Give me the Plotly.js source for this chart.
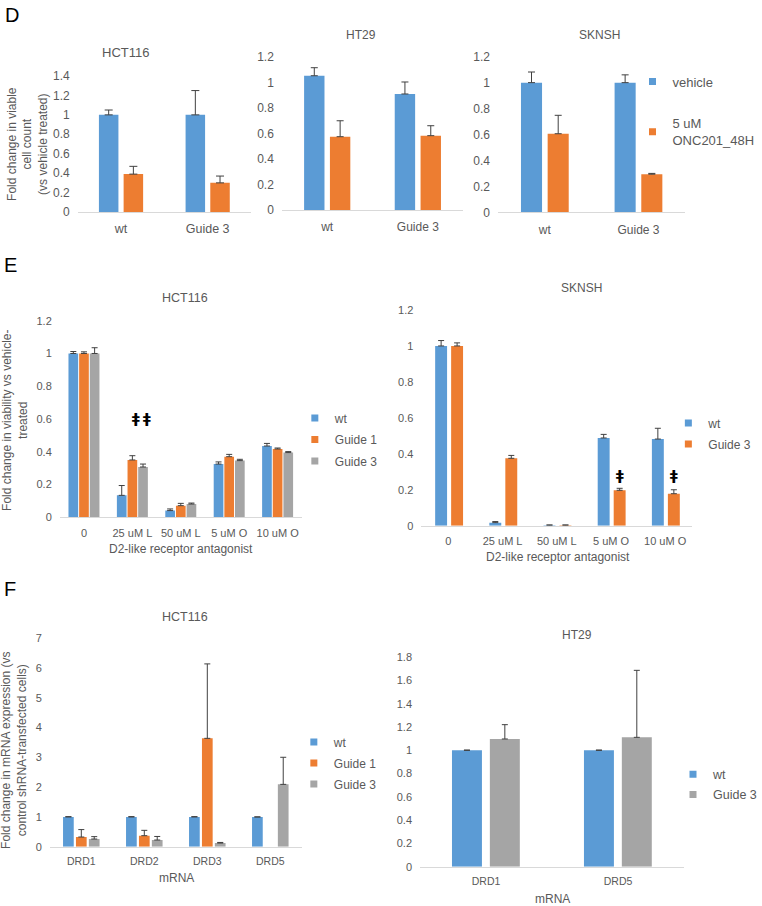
<!DOCTYPE html>
<html><head><meta charset="utf-8">
<script src="https://cdn.plot.ly/plotly-3.0.1.min.js"></script>
<style>html,body{margin:0;padding:0;background:#fff}#chart{width:762px;height:906px}</style>
</head><body><div id="chart"></div>
<script>
// ---------- DATA ----------
// Panel D
const catsD = ['wt', 'Guide 3'];
const dHctVehicle = [1.0, 1.0],   dHctVehicleErr = [0.05, 0.25];
const dHctOnc     = [0.39, 0.30], dHctOncErr     = [0.08, 0.07];
const dHtVehicle  = [1.053, 0.91], dHtVehicleErr = [0.063, 0.094];
const dHtOnc      = [0.575, 0.583], dHtOncErr    = [0.125, 0.078];
const dSkVehicle  = [1.0, 1.0],   dSkVehicleErr  = [0.082, 0.06];
const dSkOnc      = [0.606, 0.294], dSkOncErr    = [0.142, 0.006];
const seriesD = ['vehicle', '5 uM<br>ONC201_48H'];

// Panel E
const catsE = ['0', '25 uM L', '50 uM L', '5 uM O', '10 uM O'];
const eHctWt  = [1.0, 0.134, 0.041, 0.325, 0.435], eHctWtErr  = [0.012, 0.06, 0.01, 0.013, 0.016];
const eHctG1  = [1.0, 0.35, 0.071, 0.37, 0.417],   eHctG1Err  = [0.01, 0.026, 0.014, 0.014, 0.006];
const eHctG3  = [1.0, 0.307, 0.081, 0.346, 0.395], eHctG3Err  = [0.035, 0.018, 0.006, 0.008, 0.006];
const eSkWt   = [1.0, 0.017, 0.003, 0.488, 0.482], eSkWtErr   = [0.03, 0.006, 0.001, 0.02, 0.06];
const eSkG3   = [1.0, 0.375, 0.003, 0.197, 0.178], eSkG3Err   = [0.017, 0.016, 0.001, 0.011, 0.022];
const eHctMarks = [{cat: 1, series: 1, y: 0.606}, {cat: 1, series: 2, y: 0.606}];
const eSkMarks  = [{cat: 3, series: 1, y: 0.28}, {cat: 4, series: 1, y: 0.28}];

// Panel F
const catsF1 = ['DRD1', 'DRD2', 'DRD3', 'DRD5'];
const fHctWt = [1, 1, 1, 1],                 fHctWtErr = [0.01, 0.01, 0.01, 0];
const fHctG1 = [0.325, 0.37, 3.64, null],    fHctG1Err = [0.25, 0.18, 2.5, null];
const fHctG3 = [0.258, 0.224, 0.123, 2.094], fHctG3Err = [0.08, 0.12, 0.02, 0.91];
const catsF2 = ['DRD1', 'DRD5'];
const fHtWt  = [1, 1],          fHtWtErr = [0.003, 0.003];
const fHtG3  = [1.098, 1.112],  fHtG3Err = [0.123, 0.576];

// ---------- STYLE ----------
const W = 762, H = 906;
const px = v => v / W, py = v => 1 - v / H;
const BLUE = '#5B9BD5', ORANGE = '#ED7D31', GRAY = '#A5A5A5';
const TXT = '#595959', FONT = 'Liberation Sans, Arial, Helvetica, sans-serif';

function bar(name, x, y, err, color, n, off, wid, cap) {
  return {
    type: 'bar', name: name, x: x, y: y,
    xaxis: 'x' + (n === 1 ? '' : n), yaxis: 'y' + (n === 1 ? '' : n),
    marker: {color: color, line: {width: 0}},
    offset: off, width: wid, showlegend: false, hoverinfo: 'x+y',
    error_y: {type: 'data', symmetric: false, array: err,
              arrayminus: err.map(() => 0), color: '#404040', thickness: 1, width: cap}
  };
}
function legItem(name, color, n, cat, legend, group) {
  return {
    type: 'scatter', mode: 'markers', name: name, x: [cat], y: [null],
    xaxis: 'x' + (n === 1 ? '' : n), yaxis: 'y' + (n === 1 ? '' : n),
    marker: {symbol: 'square', size: 7, color: color},
    legend: legend, legendgroup: group, showlegend: true, hoverinfo: 'skip'
  };
}

// bar geometry (in category units) per panel
const dW = 0.225, dOff = [-0.255, 0.03];
const eW = 0.2,   eOff = [-0.32, -0.1, 0.12];
const e2W = 0.22, e2Off = [-0.245, 0.05];
const fW = 0.17,  fOff = [-0.29, -0.085, 0.12];
const f2W = 0.227, f2Off = [-0.258, 0.029];

const data = [
  bar('vehicle', catsD, dHctVehicle, dHctVehicleErr, BLUE, 1, dOff[0], dW, 4),
  bar('5 uM ONC201_48H', catsD, dHctOnc, dHctOncErr, ORANGE, 1, dOff[1], dW, 4),
  bar('vehicle', catsD, dHtVehicle, dHtVehicleErr, BLUE, 2, dOff[0], dW, 3.5),
  bar('5 uM ONC201_48H', catsD, dHtOnc, dHtOncErr, ORANGE, 2, dOff[1], dW, 3.5),
  bar('vehicle', catsD, dSkVehicle, dSkVehicleErr, BLUE, 3, dOff[0], dW, 3.5),
  bar('5 uM ONC201_48H', catsD, dSkOnc, dSkOncErr, ORANGE, 3, dOff[1], dW, 3.5),
  legItem(seriesD[0], BLUE, 3, catsD[0], 'legend', 'd1'),
  legItem(seriesD[1], ORANGE, 3, catsD[0], 'legend', 'd2'),

  bar('wt', catsE, eHctWt, eHctWtErr, BLUE, 4, eOff[0], eW, 3),
  bar('Guide 1', catsE, eHctG1, eHctG1Err, ORANGE, 4, eOff[1], eW, 3),
  bar('Guide 3', catsE, eHctG3, eHctG3Err, GRAY, 4, eOff[2], eW, 3),
  legItem('wt', BLUE, 4, catsE[0], 'legend2', 'e1'),
  legItem('Guide 1', ORANGE, 4, catsE[0], 'legend2', 'e2'),
  legItem('Guide 3', GRAY, 4, catsE[0], 'legend2', 'e3'),

  bar('wt', catsE, eSkWt, eSkWtErr, BLUE, 5, e2Off[0], e2W, 3),
  bar('Guide 3', catsE, eSkG3, eSkG3Err, ORANGE, 5, e2Off[1], e2W, 3),
  legItem('wt', BLUE, 5, catsE[0], 'legend3', 'f1'),
  legItem('Guide 3', ORANGE, 5, catsE[0], 'legend3', 'f2'),

  bar('wt', catsF1, fHctWt, fHctWtErr, BLUE, 6, fOff[0], fW, 3),
  bar('Guide 1', catsF1, fHctG1, fHctG1Err, ORANGE, 6, fOff[1], fW, 3),
  bar('Guide 3', catsF1, fHctG3, fHctG3Err, GRAY, 6, fOff[2], fW, 3),
  legItem('wt', BLUE, 6, catsF1[0], 'legend4', 'g1'),
  legItem('Guide 1', ORANGE, 6, catsF1[0], 'legend4', 'g2'),
  legItem('Guide 3', GRAY, 6, catsF1[0], 'legend4', 'g3'),

  bar('wt', catsF2, fHtWt, fHtWtErr, BLUE, 7, f2Off[0], f2W, 3),
  bar('Guide 3', catsF2, fHtG3, fHtG3Err, GRAY, 7, f2Off[1], f2W, 3),
  legItem('wt', BLUE, 7, catsF2[0], 'legend5', 'h1'),
  legItem('Guide 3', GRAY, 7, catsF2[0], 'legend5', 'h2')
];

function xax(x0, x1, n, ycode, fs, so) {
  return {domain: [px(x0), px(x1)], type: 'category', range: [-0.5, n - 0.5], anchor: ycode,
          showline: true, linecolor: '#D9D9D9', linewidth: 1, ticks: '', showgrid: false,
          zeroline: false, tickfont: {size: fs, color: TXT, family: FONT},
          ticklabelstandoff: so, fixedrange: true};
}
function yax(y0, y1, max, dt, xcode, fs) {
  return {domain: [py(y0), py(y1)], range: [0, max], dtick: dt, tick0: 0, anchor: xcode,
          showline: false, ticks: '', showgrid: false, zeroline: false,
          tickfont: {size: fs, color: TXT, family: FONT}, ticklabelstandoff: 7, fixedrange: true};
}
function leg(left, top, gap, fs) {
  return {x: px(left), y: py(top), xanchor: 'left', yanchor: 'top', bgcolor: 'rgba(0,0,0,0)',
          font: {size: fs, color: TXT, family: FONT}, tracegroupgap: gap, borderwidth: 0};
}
function note(text, x, y, size, color, angle) {
  return {text: text, xref: 'paper', yref: 'paper', x: px(x), y: py(y), xanchor: 'center',
          yanchor: 'middle', showarrow: false, textangle: angle || 0,
          font: {size: size, color: color, family: FONT}};
}
function mark(m, n, offs, wid, shift) {
  return {text: 'ǂ', xref: 'x' + n, yref: 'y' + n, x: m.cat + offs[m.series] + wid / 2,
          y: m.y, xshift: shift, showarrow: false, xanchor: 'center', yanchor: 'middle',
          font: {size: 14, color: '#000', family: 'DejaVu Sans, sans-serif', weight: 'bold'}};
}

const annotations = [
  note('D', 12, 15, 20, '#000'), note('E', 11, 265, 20, '#000'), note('F', 10.5, 589, 20, '#000'),
  note('HCT116', 126, 53, 13, TXT), note('HT29', 362, 35, 12, TXT), note('SKNSH', 602, 35, 12, TXT),
  note('HCT116', 186, 298, 12.5, TXT), note('SKNSH', 584, 288, 12, TXT),
  note('HCT116', 186, 617, 12.5, TXT), note('HT29', 579, 635, 12, TXT),
  note('Fold change in viable<br>cell count<br>(vs vehicle treated)', 27, 144, 12, TXT, -90),
  note('Fold change in viability vs vehicle-<br>treated', 15, 420, 12, TXT, -90),
  note('Fold change in mRNA expression (vs<br>control shRNA-transfected cells)', 14, 750, 12, TXT, -90),
  note('D2-like receptor antagonist', 182, 549, 12, TXT),
  note('D2-like receptor antagonist', 560, 557, 12, TXT),
  note('mRNA', 177, 878, 12, TXT), note('mRNA', 555, 899, 12, TXT)
].concat(eHctMarks.map(m => mark(m, 4, eOff, eW, 4)), eSkMarks.map(m => mark(m, 5, e2Off, e2W, 0)));

const layout = {
  width: W, height: H, margin: {l: 0, r: 0, t: 0, b: 0},
  paper_bgcolor: '#fff', plot_bgcolor: 'rgba(0,0,0,0)',
  font: {family: FONT, color: TXT, size: 11},
  barmode: 'overlay', showlegend: true, hovermode: false,
  xaxis: xax(78, 252, 2, 'y', 12.5, 5),     yaxis: yax(212, 76, 1.4, 0.2, 'x', 12),
  xaxis2: xax(283, 465, 2, 'y2', 12, 6),    yaxis2: yax(210, 57, 1.2, 0.2, 'x2', 12),
  xaxis3: xax(500, 688, 2, 'y3', 12, 6),    yaxis3: yax(212.3, 56.7, 1.2, 0.2, 'x3', 12),
  xaxis4: xax(60, 303, 5, 'y4', 11, 5),     yaxis4: yax(517.3, 320.7, 1.2, 0.2, 'x4', 11),
  xaxis5: xax(423, 695, 5, 'y5', 11, 5),    yaxis5: yax(525.7, 310, 1.2, 0.2, 'x5', 11),
  xaxis6: xax(50, 303, 4, 'y6', 10.5, 5),   yaxis6: yax(846.7, 638.3, 7, 1, 'x6', 11),
  xaxis7: xax(421.7, 686.7, 2, 'y7', 10.5, 5), yaxis7: yax(866.7, 657.3, 1.8, 0.2, 'x7', 11),
  legend: leg(635, 66.5, 22, 13),
  legend2: leg(296, 403.5, 2.5, 12),
  legend3: leg(671, 408.5, 2, 12),
  legend4: leg(295, 727.5, 2, 12),
  legend5: leg(676, 759.5, 1, 12.5),
  annotations: annotations
};

Plotly.newPlot('chart', data, layout, {displayModeBar: false, staticPlot: true});
</script>
</body></html>
